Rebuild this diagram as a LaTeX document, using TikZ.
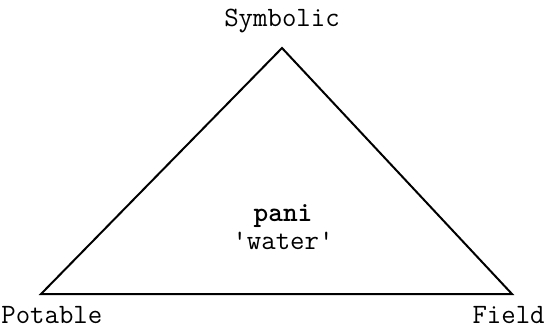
\documentclass[tikz,border=0pt]{standalone}
\usepackage{fontspec}
\usetikzlibrary{positioning}

\begin{document}
\begin{tikzpicture}[
    x=0.5pt, y=-0.5pt,
    font=\ttfamily\fontsize{14}{15}\selectfont,
    side/.style={line width=1pt, line join=miter},
    word/.style={inner sep=1pt},
]
\useasboundingbox (0,0) rectangle (546,329);

% === Corners ===
\coordinate (top) at (282,48);
\coordinate (left) at (41,294);
\coordinate (right) at (512,294);

% === Triangle ===
\draw[side] (top) -- (left) -- (right) -- cycle;

% === Corner labels ===
\node[word] (symb) at (282,21) {Symbolic};
\node[word, inner sep=0pt, anchor=base west] (pot) at (1,323) {Potable};
\node[word, inner sep=0pt, anchor=base east] (field) at (545,323) {Field};

% === Centre ===
\node[word] (pani) at (283,216) {\bfseries pani};
\node[word, below=0pt of pani] (water) {'water'};

\end{tikzpicture}
\end{document}
